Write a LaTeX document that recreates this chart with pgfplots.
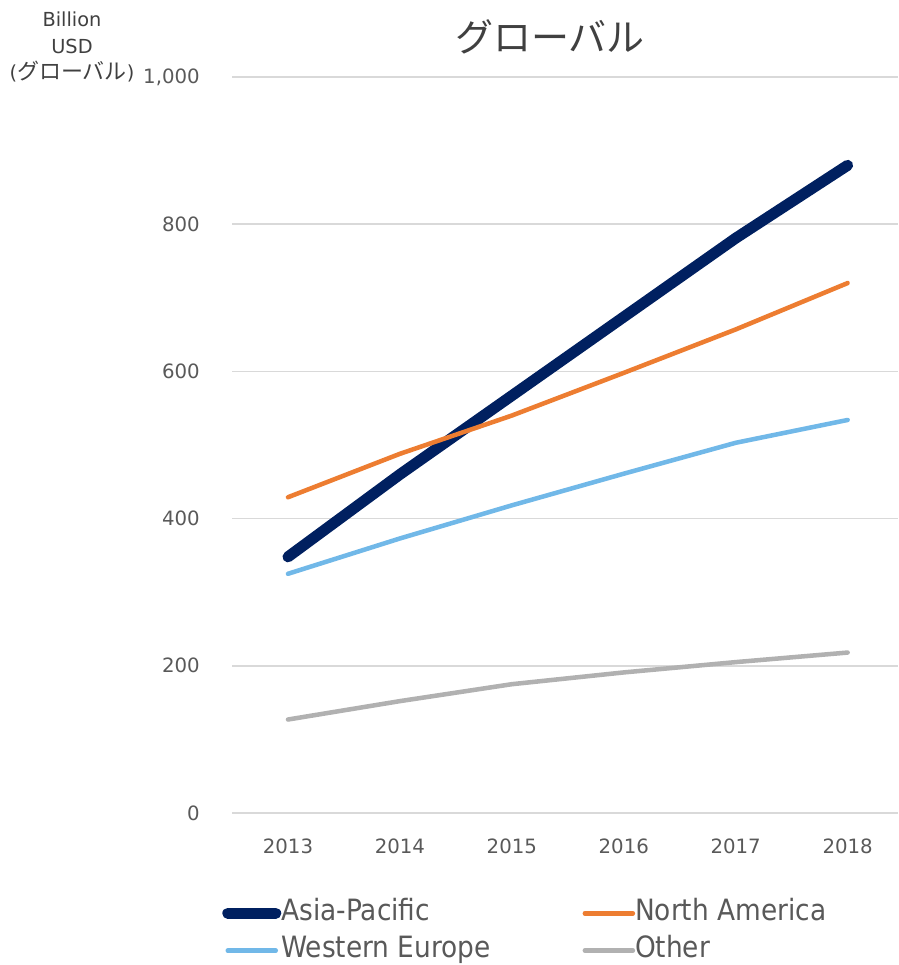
\documentclass[border=0pt]{standalone}
\usepackage{pgfplots}
\pgfplotsset{compat=1.18}
\usepackage{fontspec}
\setmainfont{DejaVu Sans}
\newfontfamily\cjk{Noto Sans CJK JP}
\newfontfamily\cond{DejaVu Sans}[FakeStretch=0.9]
\definecolor{navy}{HTML}{002060}
\definecolor{orng}{HTML}{ED7D31}
\definecolor{lblue}{HTML}{71B8E8}
\definecolor{lgray}{HTML}{B1B1B1}
\definecolor{gridc}{HTML}{D9D9D9}
\definecolor{txt}{HTML}{595959}
\definecolor{ttl}{HTML}{404040}
\begin{document}
\begin{tikzpicture}
\path[use as bounding box] (0pt,0pt) rectangle (674.25pt,723.75pt);
\node[align=center, text=ttl, font=\fontsize{14.5}{19.8}\selectfont, inner sep=0pt] at (54pt,688.5pt) {Billion\\USD\\({\cjk\fontsize{16.5}{19.8}\selectfont グローバル})};
\node[text=ttl, font=\cjk\fontsize{28.5}{34}\selectfont, inner sep=0pt] at (412.5pt,696pt) {グローバル};
\begin{axis}[
  at={(174pt,114pt)}, anchor=south west,
  scale only axis, width=499.5pt, height=552pt,
  xmin=2012.5, xmax=2018.45, ymin=0, ymax=1000,
  xtick={2013,2014,2015,2016,2017,2018},
  xticklabels={2013,2014,2015,2016,2017,2018},
  ytick={0,200,400,600,800,1000},
  /pgf/number format/1000 sep={,},
  /pgf/number format/assume math mode=true,
  axis line style={draw=none},
  major tick length=0pt,
  ymajorgrids, grid style={gridc, line width=1.1pt},
  tick label style={text=txt, font=\fontsize{14.8}{17}\selectfont},
  yticklabel style={anchor=east, inner sep=0pt, xshift=-24pt},
  xticklabel style={anchor=north, inner sep=0pt, yshift=-19pt},
  clip=false,
  legend columns=2,
  legend cell align=left,
  legend style={at={(rel axis cs:0,0)}, anchor=north west, xshift=-7.5pt, yshift=-64.5pt,
    draw=none, fill=none, inner sep=0pt, row sep=7pt,
    nodes={inner sep=0pt, text=txt, font=\cond\fontsize{22}{25}\selectfont, text height=16pt, text depth=5pt}},
  legend image code/.code={\draw[#1, line cap=round] (1pt,0pt) -- (37pt,0pt);},
  every axis plot/.append style={line cap=round, line join=round},
]
\addplot[navy, line width=8.25pt] coordinates {(2013,348) (2014,460) (2015,567) (2016,674) (2017,781) (2018,880)};
\addlegendentry{\makebox[226pt][l]{Asia-Pacific}}
\addplot[orng, line width=3.4pt] coordinates {(2013,429) (2014,488) (2015,540) (2016,598) (2017,657) (2018,720)};
\addlegendentry{North America}
\addplot[lblue, line width=3.4pt] coordinates {(2013,325) (2014,373) (2015,418) (2016,461) (2017,503) (2018,534)};
\addlegendentry{\makebox[226pt][l]{Western Europe}}
\addplot[lgray, line width=3.4pt] coordinates {(2013,127) (2014,152) (2015,175) (2016,191) (2017,205) (2018,218)};
\addlegendentry{Other}
\end{axis}
\end{tikzpicture}
\end{document}
